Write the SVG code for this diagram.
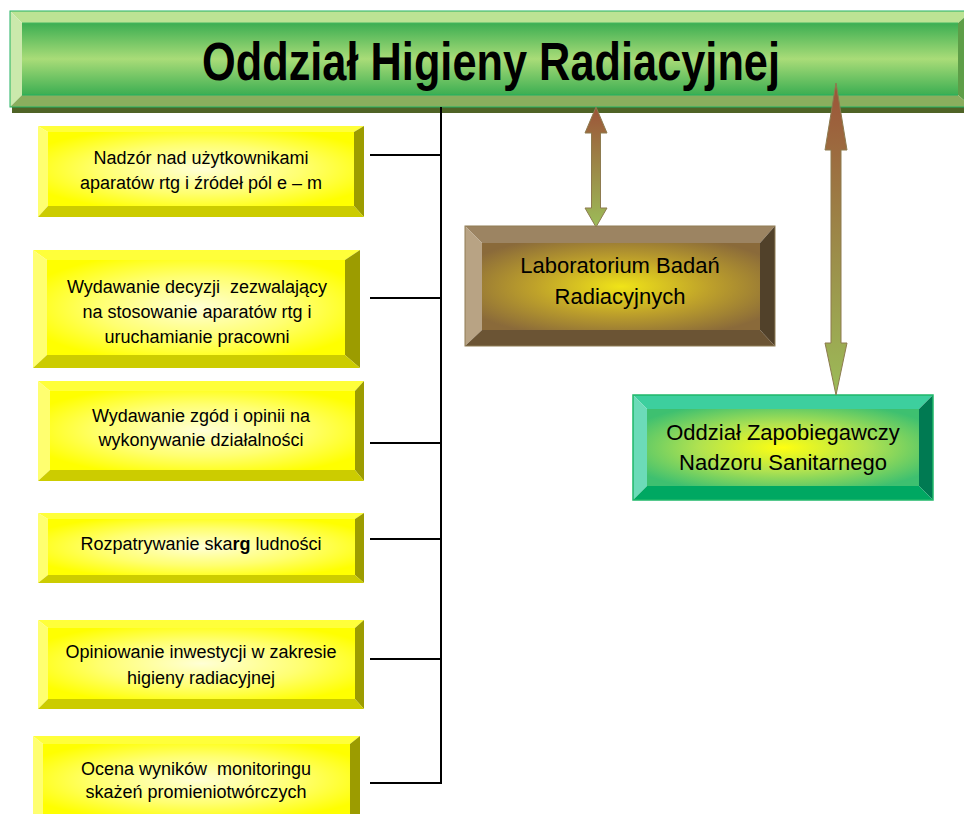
<svg xmlns="http://www.w3.org/2000/svg" width="964" height="814" viewBox="0 0 964 814">
<style>
.yt{font-family:"Liberation Sans",Arial,sans-serif;font-size:18px;fill:#000;text-anchor:middle;white-space:pre}
.bt{font-family:"Liberation Sans",Arial,sans-serif;font-size:22px;fill:#000;text-anchor:middle}
.title{font-family:"Liberation Sans",Arial,sans-serif;font-size:53px;font-weight:bold;fill:#000}
.ln{stroke:#000;stroke-width:2;fill:none}
.yface{fill:url(#gy)}
.ytop{fill:#ffff3a}.yleft{fill:#ffff70}.yright{fill:#9c9c00}.ybot{fill:#cccc00}
</style>
<defs>
<radialGradient id="gy" cx="0.5" cy="0.5" r="0.6">
<stop offset="0" stop-color="#ffffd6"/><stop offset="0.55" stop-color="#ffff70"/><stop offset="1" stop-color="#ffff00"/>
</radialGradient>
<radialGradient id="gb" cx="0.5" cy="0.5" r="0.62">
<stop offset="0" stop-color="#f0e418"/><stop offset="0.5" stop-color="#bfa22a"/><stop offset="1" stop-color="#8a6a3a"/>
</radialGradient>
<radialGradient id="gg" cx="0.5" cy="0.5" r="0.62">
<stop offset="0" stop-color="#ffff10"/><stop offset="0.5" stop-color="#b0e250"/><stop offset="1" stop-color="#3ec070"/>
</radialGradient>
<linearGradient id="gt" x1="0" y1="0" x2="0" y2="1">
<stop offset="0" stop-color="#3cae52"/><stop offset="0.5" stop-color="#a9dc78"/><stop offset="1" stop-color="#3cae52"/>
</linearGradient>
<linearGradient id="ga1" gradientUnits="userSpaceOnUse" x1="0" y1="107" x2="0" y2="227">
<stop offset="0" stop-color="#9c5438"/><stop offset="1" stop-color="#9cbc58"/>
</linearGradient>
<linearGradient id="ga2" gradientUnits="userSpaceOnUse" x1="0" y1="83" x2="0" y2="395">
<stop offset="0" stop-color="#9c5438"/><stop offset="1" stop-color="#9cbc58"/>
</linearGradient>
</defs>

<g id="title">
<rect x="12" y="107" width="960" height="6" fill="#4f6326"/>
<rect x="22" y="23" width="936" height="72" fill="url(#gt)"/>
<polygon points="10,11 972,11 958,23 22,23" fill="#bce394"/>
<polygon points="10,107 10,11 22,23 22,95" fill="#cbe9ac"/>
<polygon points="972,11 972,107 958,95 958,23" fill="#5e9e48"/>
<polygon points="972,107 10,107 22,95 958,95" fill="#8aae5e"/>
<rect x="10" y="11" width="962" height="96" fill="none" stroke="#22b262" stroke-width="1"/>
<line x1="22" y1="95" x2="958" y2="95" stroke="#22b262" stroke-width="1"/>
<line x1="22" y1="23" x2="958" y2="23" stroke="#44b860" stroke-width="1"/>
<text class="title" x="202" y="80" textLength="578" lengthAdjust="spacingAndGlyphs">Oddział Higieny Radiacyjnej</text>
</g>

<g id="n1">
<rect class="yface" x="48" y="132" width="306" height="74"/>
<polygon class="ytop" points="38,126 364,126 354,132 48,132"/>
<polygon class="yleft" points="38,217 38,126 48,132 48,206"/>
<polygon class="yright" points="364,126 364,217 354,206 354,132"/>
<polygon class="ybot" points="364,217 38,217 48,206 354,206"/>
<text class="yt" x="201" y="164">Nadzór nad użytkownikami</text>
<text class="yt" x="201" y="189">aparatów rtg i źródeł pól e – m</text>
</g>

<g id="n2">
<rect class="yface" x="47" y="260" width="298" height="95"/>
<polygon class="ytop" points="33,250 360,250 345,260 47,260"/>
<polygon class="yleft" points="33,368 33,250 47,260 47,355"/>
<polygon class="yright" points="360,250 360,368 345,355 345,260"/>
<polygon class="ybot" points="360,368 33,368 47,355 345,355"/>
<text class="yt" x="197" y="293">Wydawanie decyzji  zezwalający</text>
<text class="yt" x="197" y="318">na stosowanie aparatów rtg i</text>
<text class="yt" x="197" y="343">uruchamianie pracowni</text>
</g>

<g id="n3">
<rect class="yface" x="50" y="391" width="305" height="79"/>
<polygon class="ytop" points="38,381 364,381 355,391 50,391"/>
<polygon class="yleft" points="38,481 38,381 50,391 50,470"/>
<polygon class="yright" points="364,381 364,481 355,470 355,391"/>
<polygon class="ybot" points="364,481 38,481 50,470 355,470"/>
<text class="yt" x="201" y="422">Wydawanie zgód i opinii na</text>
<text class="yt" x="201" y="446">wykonywanie działalności</text>
</g>

<g id="n4">
<rect class="yface" x="48" y="519" width="307" height="56"/>
<polygon class="ytop" points="38,513 364,513 355,519 48,519"/>
<polygon class="yleft" points="38,583 38,513 48,519 48,575"/>
<polygon class="yright" points="364,513 364,583 355,575 355,519"/>
<polygon class="ybot" points="364,583 38,583 48,575 355,575"/>
<text class="yt" x="201" y="550">Rozpatrywanie ska<tspan font-weight="bold">rg</tspan> ludności</text>
</g>

<g id="n5">
<rect class="yface" x="48" y="628" width="307" height="71"/>
<polygon class="ytop" points="38,620 364,620 355,628 48,628"/>
<polygon class="yleft" points="38,709 38,620 48,628 48,699"/>
<polygon class="yright" points="364,620 364,709 355,699 355,628"/>
<polygon class="ybot" points="364,709 38,709 48,699 355,699"/>
<text class="yt" x="201" y="658">Opiniowanie inwestycji w zakresie</text>
<text class="yt" x="201" y="684">higieny radiacyjnej</text>
</g>

<g id="n6">
<rect class="yface" x="43" y="744" width="307" height="72"/>
<polygon class="ytop" points="33,736 360,736 350,744 43,744"/>
<polygon class="yleft" points="33,826 33,736 43,744 43,816"/>
<polygon class="yright" points="360,736 360,826 350,816 350,744"/>
<polygon class="ybot" points="360,826 33,826 43,816 350,816"/>
<text class="yt" x="196" y="775">Ocena wyników  monitoringu</text>
<text class="yt" x="196" y="798">skażeń promieniotwórczych</text>
</g>

<g id="lab">
<rect x="482" y="243" width="278" height="87" fill="url(#gb)"/>
<polygon points="465,226 775,226 760,243 482,243" fill="#9c8462"/>
<polygon points="465,346 465,226 482,243 482,330" fill="#b8a384"/>
<polygon points="775,226 775,346 760,330 760,243" fill="#51412a"/>
<polygon points="775,346 465,346 482,330 760,330" fill="#6b5434"/>
<rect x="465" y="226" width="310" height="120" fill="none" stroke="#8f7d55" stroke-width="1"/>
<text class="bt" x="620" y="273">Laboratorium Badań</text>
<text class="bt" x="620" y="304">Radiacyjnych</text>
</g>

<g id="ozns">
<rect x="647" y="409" width="272" height="77" fill="url(#gg)"/>
<polygon points="633,395 933,395 919,409 647,409" fill="#3dcf9e"/>
<polygon points="633,500 633,395 647,409 647,486" fill="#6cdbb8"/>
<polygon points="933,395 933,500 919,486 919,409" fill="#007a52"/>
<polygon points="933,500 633,500 647,486 919,486" fill="#00a862"/>
<rect x="633" y="395" width="300" height="105" fill="none" stroke="#1fb86a" stroke-width="1.5"/>
<text class="bt" x="783" y="440">Oddział Zapobiegawczy</text>
<text class="bt" x="783" y="470">Nadzoru Sanitarnego</text>
</g>

<g id="connectors">
<line class="ln" x1="441" y1="107" x2="441" y2="783"/>
<line class="ln" x1="370" y1="155" x2="441" y2="155"/>
<line class="ln" x1="370" y1="298" x2="441" y2="298"/>
<line class="ln" x1="370" y1="443" x2="441" y2="443"/>
<line class="ln" x1="370" y1="539" x2="441" y2="539"/>
<line class="ln" x1="370" y1="659" x2="441" y2="659"/>
<line class="ln" x1="370" y1="783" x2="442" y2="783"/>
<polygon points="596,107 607,133 600.5,133 600.5,208 607,208 596,227 585,208 591.5,208 591.5,133 585,133" fill="url(#ga1)" stroke="#8d7b4f" stroke-width="1"/>
<polygon points="836,83 847,150 841,150 841,343 847,343 836,395 825,343 831,343 831,150 825,150" fill="url(#ga2)" stroke="#8d7b4f" stroke-width="1"/>
</g>
</svg>
